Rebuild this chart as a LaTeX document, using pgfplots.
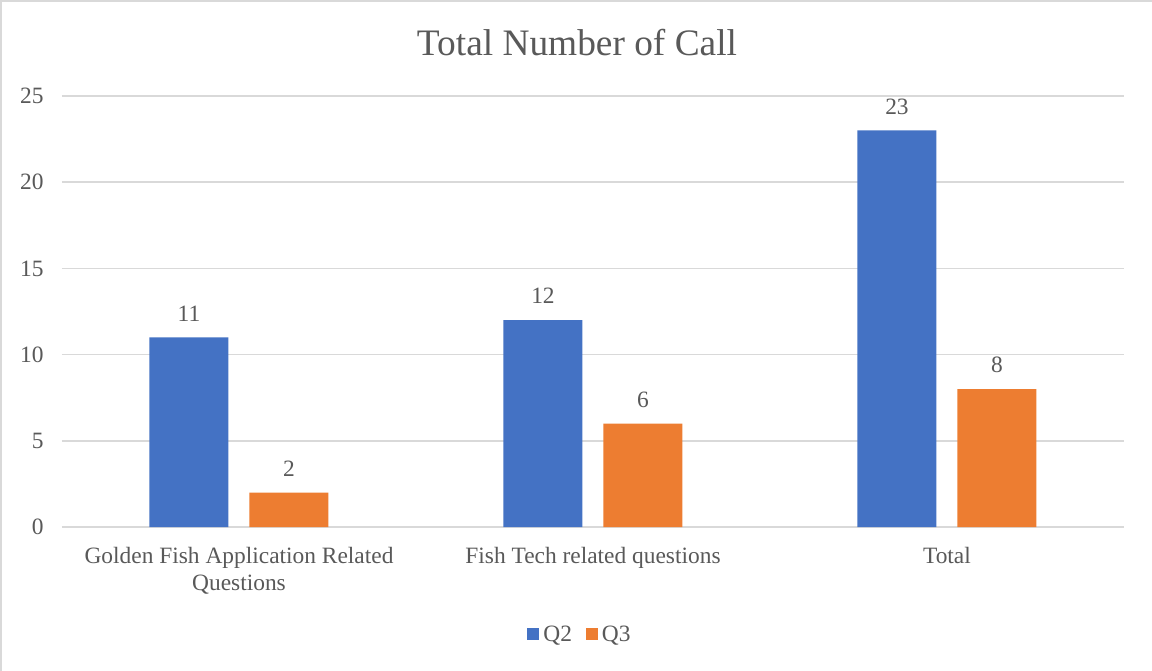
\documentclass[border=0pt]{standalone}
\usepackage{pgfplots}
\pgfplotsset{compat=1.18}
\usepackage{fontspec}
\setmainfont{Liberation Serif}
\definecolor{qblue}{HTML}{4472C4}
\definecolor{qorange}{HTML}{ED7D31}
\definecolor{txt}{HTML}{595959}
\definecolor{grd}{HTML}{D9D9D9}
\begin{document}
\begin{tikzpicture}
\useasboundingbox[fill=white] (-62bp,-144bp) rectangle (1090bp,527bp);
\draw[grd, line width=2.5bp] (-60.75bp,-144bp) -- (-60.75bp,525.75bp) -- (1090bp,525.75bp);
\begin{axis}[
  scale only axis, width=1062bp, height=431bp,
  xmin=-0.5, xmax=2.5, ymin=0, ymax=25,
  ybar=21bp, bar width=79bp,
  xtick={0,1,2},
  xticklabels={{Golden Fish Application Related\\Questions}, Fish Tech related questions, Total},
  ytick={0,5,10,15,20,25},
  major tick length=0pt,
  axis line style={draw=none},
  ymajorgrids, grid style={grd, line width=1.5bp},
  tick label style={font=\fontsize{23.5}{27}\selectfont, text=txt},
  /pgf/number format/assume math mode=true,
  xticklabel style={align=center, yshift=-17bp},
  yticklabel style={xshift=-15bp},
  title={Total Number of Call},
  title style={at={(0.5,1)}, anchor=center, yshift=47bp, xshift=-16bp, font=\fontsize{37.5}{40}\selectfont, text=txt},
  nodes near coords,
  nodes near coords style={font=\fontsize{23.5}{26}\selectfont, text=txt, anchor=south, inner sep=0pt, yshift=16bp},
  legend style={at={(0.5,0)}, anchor=center, yshift=-107bp, xshift=-13bp, draw=none, fill=none,
    font=\fontsize{23.5}{26}\selectfont, text=txt, legend columns=2,
    /tikz/every even column/.append style={column sep=12bp},
    /tikz/every odd column/.append style={column sep=2bp}},
  legend cell align=left,
]
\addplot[fill=qblue, draw=none, legend image code/.code={\fill[qblue] (0bp,-6bp) rectangle (12bp,6bp);}] coordinates {(0,11) (1,12) (2,23)};
\addplot[fill=qorange, draw=none, legend image code/.code={\fill[qorange] (0bp,-6bp) rectangle (12bp,6bp);}] coordinates {(0,2) (1,6) (2,8)};
\legend{Q2,Q3}
\end{axis}
\end{tikzpicture}
\end{document}
